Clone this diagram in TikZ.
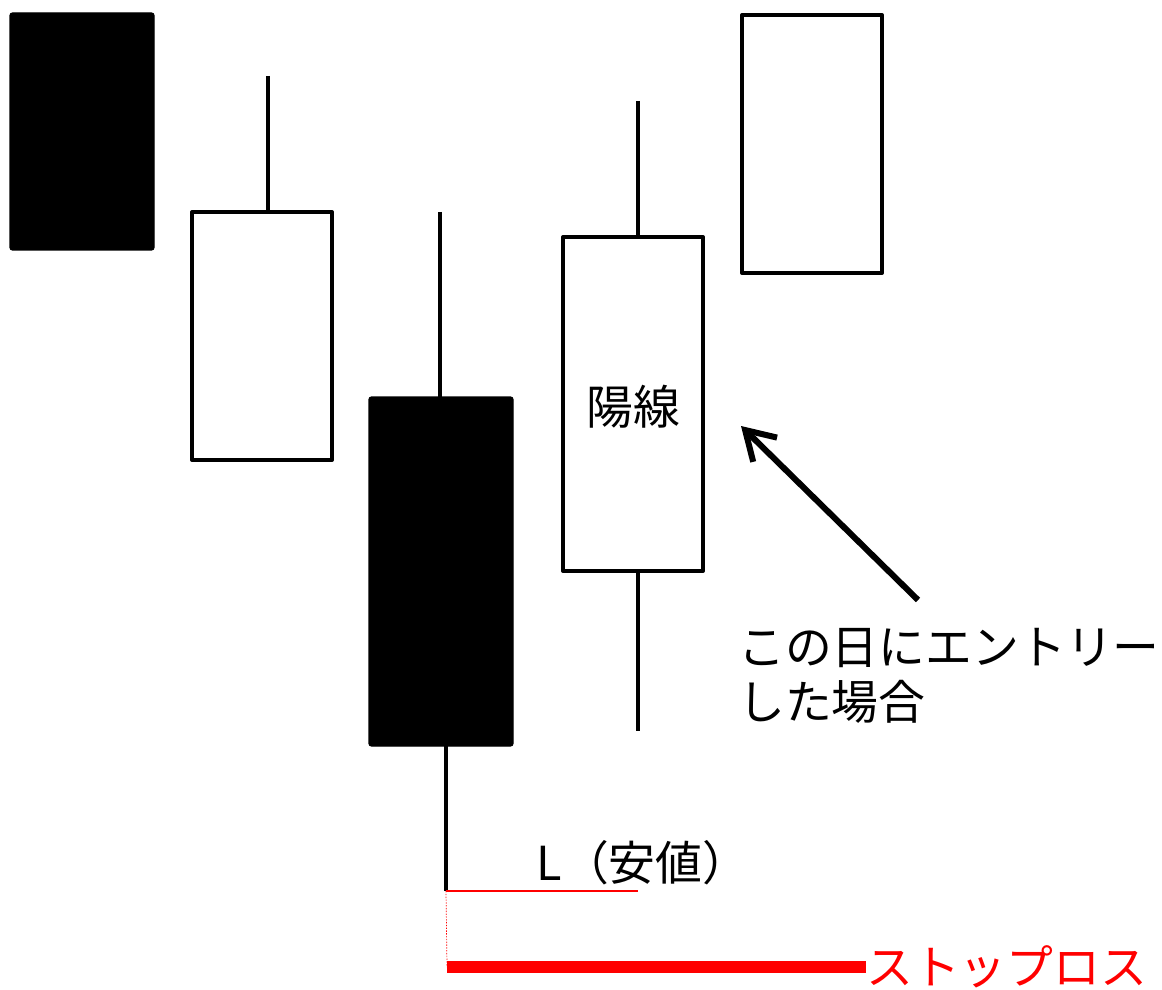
\documentclass[tikz,border=0pt]{standalone}
\usepackage{fontspec}
\setmainfont{Noto Sans CJK JP}
\usepackage{tikz}
\usetikzlibrary{arrows.meta}
\usetikzlibrary{positioning}

\begin{document}
\begin{tikzpicture}[x=0.025cm,y=-0.025cm,
  yin/.style={fill=black,draw=black,line width=1pt,rounded corners=2pt},
  yang/.style={fill=white,draw=black,line width=2.8pt,line join=round},
  wick/.style={draw=black,line width=2.8pt},
  jtext/.style={font=\fontsize{33.3}{39}\selectfont,inner sep=0pt}]
\useasboundingbox (0,0) rectangle (1162,990);
% draw wicks
\foreach \x/\a/\b in {268/76/211,440/212/397,446/746/891,638/101/236,638/571/731} {
\draw[wick] (\x,\a) -- (\x,\b);
}
% draw bodies
\foreach \x/\t/\b in {10/13/250,369/397/746} {
\draw[yin] (\x,\t) rectangle (\x+144,\b);
}
\foreach \x/\t/\b in {192/212/460,563/237/571,742/15/273} {
\draw[yang] (\x,\t) rectangle (\x+140,\b);
}
\node[jtext] (yosen) at (633,407) {陽線};
% low and stop loss
\coordinate (low) at (446,891);
\coordinate (lowend) at (638,891);
\coordinate (stop) at (447,967);
\node[jtext] (lowlabel) at (643,863) {L（安値）};
\draw[red,line width=0.8pt] (low) -- (lowend);
\draw[red,line width=0.5pt,dash pattern=on 1pt off 1pt] (low) -- (stop);
\node[jtext,red,anchor=west] (stoploss) at (866,967) {ストップロス};
\draw[red,line width=8.5pt] (stop) -- (stoploss.west);
% entry arrow
\node[jtext,align=left,anchor=west] (entry) at (738,676) {この日にエントリー\\した場合};
\coordinate (tail) at (918,600);
\coordinate (tip) at (741,426);
\draw[line width=4.3pt,-{Straight Barb[length=0.7cm,width=0.85cm]}] (tail) -- (tip);
\end{tikzpicture}
\end{document}
